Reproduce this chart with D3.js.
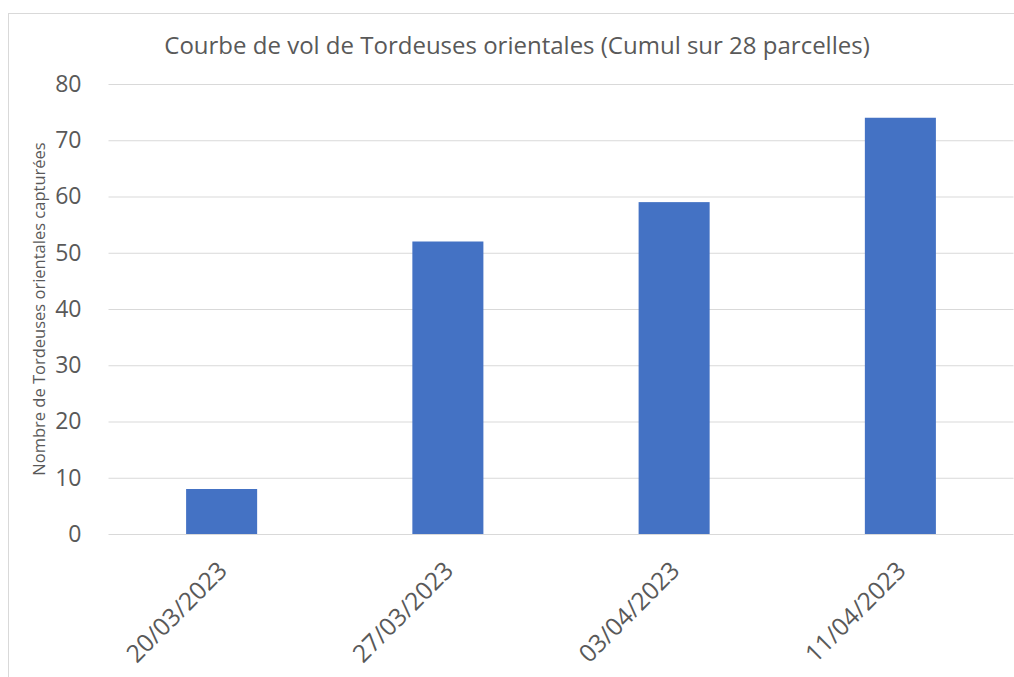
<!DOCTYPE html>
<html>
<head>
<meta charset="utf-8">
<script src="https://cdn.jsdelivr.net/npm/d3@7"></script>
<style>
  html, body { margin: 0; padding: 0; background: #ffffff; }
  svg { display: block; }
</style>
</head>
<body>
<svg id="chart" width="1014" height="677"></svg>
<script>
const categories = ["20/03/2023", "27/03/2023", "03/04/2023", "11/04/2023"];
const values = [8, 52, 59, 74];
const yTicks = [0, 10, 20, 30, 40, 50, 60, 70, 80];
const chartTitle = "Courbe de vol de Tordeuses orientales (Cumul sur 28 parcelles)";
const yAxisTitle = "Nombre de Tordeuses orientales capturées";

const W = 1014, H = 677;
const margin = { left: 108.5, right: 0.5, top: 84, bottom: 143 };
const font = "'Open Sans', 'Noto Sans', sans-serif";
const textColor = "#595959";
const gridColor = "#D9D9D9";
const barColor = "#4472C4";

const svg = d3.select("#chart");

// outer chart border
svg.append("rect")
  .attr("x", 8.5).attr("y", 13.5)
  .attr("width", W + 10).attr("height", H + 10)
  .attr("fill", "none").attr("stroke", gridColor).attr("stroke-width", 1);

const x = d3.scaleBand()
  .domain(categories)
  .range([margin.left, W - margin.right])
  .paddingInner(0.686)
  .paddingOuter(0.343);

const y = d3.scaleLinear()
  .domain([0, 80])
  .range([H - margin.bottom, margin.top]);

// y axis with gridlines
const yAxis = svg.append("g")
  .attr("transform", `translate(${margin.left},0)`)
  .call(d3.axisLeft(y).tickValues(yTicks).tickSize(-(W - margin.right - margin.left)).tickPadding(27));
yAxis.select(".domain").remove();
yAxis.selectAll(".tick line").attr("stroke", gridColor).attr("stroke-width", 1);
yAxis.selectAll(".tick text")
  .attr("fill", textColor)
  .style("font-family", font)
  .style("font-size", "23px");

// bars
svg.append("g").selectAll("rect")
  .data(values)
  .join("rect")
  .attr("x", (d, i) => x(categories[i]))
  .attr("y", d => y(d))
  .attr("width", x.bandwidth())
  .attr("height", d => y(0) - y(d))
  .attr("fill", barColor);

// x labels
const xAxis = svg.append("g")
  .attr("transform", `translate(0,${y(0)})`)
  .call(d3.axisBottom(x).tickSize(0).tickPadding(0));
xAxis.select(".domain").remove();
xAxis.selectAll(".tick text")
  .attr("fill", textColor)
  .style("font-family", font)
  .style("font-size", "24.5px")
  .attr("text-anchor", "end")
  .attr("dy", "0")
  .attr("transform", "translate(7,38) rotate(-45)");

// title
svg.append("text")
  .attr("x", 517).attr("y", 54)
  .attr("text-anchor", "middle")
  .attr("fill", textColor)
  .style("font-family", font)
  .style("font-size", "24px")
  .text(chartTitle);

// y axis title
svg.append("text")
  .attr("transform", `translate(45,${(y(0) + y(80)) / 2 + 0}) rotate(-90)`)
  .attr("text-anchor", "middle")
  .attr("fill", textColor)
  .style("font-family", font)
  .style("font-size", "16.5px")
  .text(yAxisTitle);
</script>
</body>
</html>
